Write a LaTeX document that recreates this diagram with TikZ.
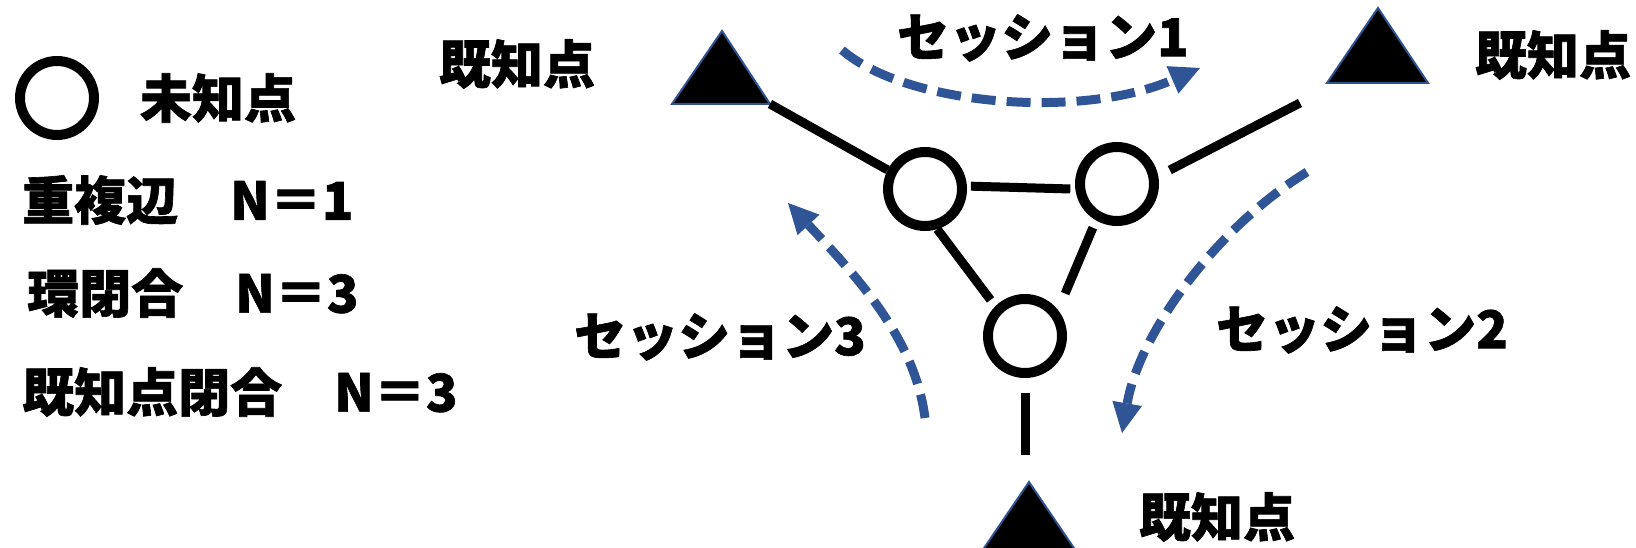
\documentclass[tikz,border=0pt]{standalone}
\usepackage{fontspec}
\setmainfont{Noto Sans CJK JP}[BoldFeatures={FakeBold=1.2}]
\usetikzlibrary{arrows.meta}
\definecolor{arrblue}{HTML}{2F5597}
\definecolor{triborder}{HTML}{2F528F}
\begin{document}
\begin{tikzpicture}[x=1pt,y=-1pt,
  unk/.style={circle, draw=black, line width=10pt, minimum size=74pt, inner sep=0pt, fill=white},
  edge/.style={draw=black, line width=9pt},
  sess/.style={draw=arrblue, line width=9pt, dash pattern=on 24pt off 11pt, -{Triangle[length=30pt,width=30pt,line width=0pt]}},
  lbl/.style={inner sep=0pt, font=\fontsize{52}{60}\selectfont\bfseries},
  known/.style={fill=black, draw=triborder, line width=2pt}]
\useasboundingbox (0,0) rectangle (1636,548);

% known points (triangles)
\draw[known] (672,104) coordinate (T1l) -- (770,104) coordinate (T1r) -- (722,31) coordinate (T1t) -- cycle;
\draw[known] (1327,83) coordinate (T2l) -- (1428,83) coordinate (T2r) -- (1378,8) coordinate (T2t) -- cycle;
\draw[known] (978,557) coordinate (T3l) -- (1080,557) coordinate (T3r) -- (1029,482) coordinate (T3t) -- cycle;
\coordinate (T2e) at (1300,103);
\coordinate (T3e) at (1025,455);

% unknown points
\node[unk] (A) at (925,189) {};
\node[unk] (B) at (1117,184) {};
\node[unk] (C) at (1025,336) {};

% edges
\draw[edge] (T1r) -- (A.153);
\draw[edge, shorten <=4pt, shorten >=5pt] (A.4) -- (B.187);
\draw[edge, shorten >=8pt] (A.-73) -- (C.135);
\draw[edge, shorten <=8pt, shorten >=18pt] (B.-120) -- (C.38);
\draw[edge, shorten <=13pt] (B.11) -- (T2e);
\draw[edge, shorten <=15pt] (C.-90) -- (T3e);

% session arrows
\coordinate (s1a) at (842,50);  \coordinate (s1b) at (1200,68);
\coordinate (s2a) at (1307,172); \coordinate (s2b) at (1122,433);
\coordinate (s3a) at (925,418); \coordinate (s3b) at (788,203);
\draw[sess] (s1a) .. controls (905,105) and (1080,120) .. (s1b);
\draw[sess] (s2a) .. controls (1220,225) and (1140,330) .. (s2b);
\draw[sess] (s3a) .. controls (915,340) and (860,280) .. (s3b);

% labels
\node[lbl] (k1) at (517,64) {既知点};
\node[lbl] (k2) at (1553,55) {既知点};
\node[lbl] (k3) at (1217,517) {既知点};
\node[lbl] (s1) at (1043,38) {セッション1};
\node[lbl] (s2) at (1362,330) {セッション2};
\node[lbl] (s3) at (720,337) {セッション3};

% legend
\node[unk] (leg) at (57,98) {};
\node[lbl] (legt) at (218,98) {未知点};
\node[lbl, anchor=west] (r1) at (22,200) {重複辺　N＝1};
\node[lbl, anchor=west] (r2) at (27,293) {環閉合　N＝3};
\node[lbl, anchor=west] (r3) at (22,392) {既知点閉合　N＝3};
\end{tikzpicture}
\end{document}
